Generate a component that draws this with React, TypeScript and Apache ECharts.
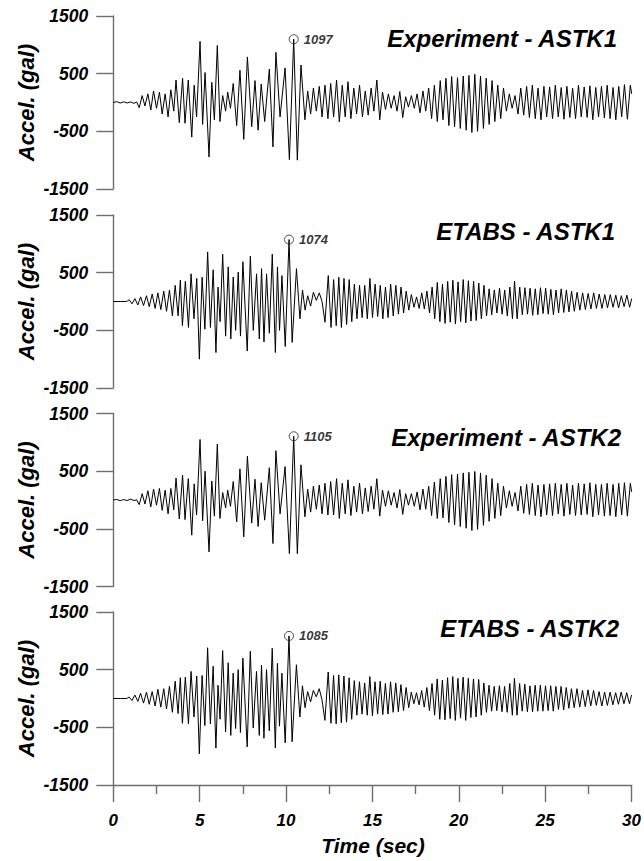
import React, { useEffect, useRef } from "react";
import * as echarts from "echarts";

const FONT = "'Liberation Sans', Arial, Helvetica, sans-serif";

const PANEL_TITLES = ["Experiment - ASTK1", "ETABS - ASTK1", "Experiment - ASTK2", "ETABS - ASTK2"];
const Y_TICKS = [-1500, -500, 500, 1500];
const Y_TITLE = "Accel. (gal)";
const X_TITLE = "Time (sec)";

// Experiment records: times of the read extrema (s), shared by ASTK1 and ASTK2
const EXP_T = [
  0, 0.2, 0.4, 0.6, 0.8, 1.0, 1.2, 1.35,
  1.5, 1.67, 1.83, 2.0, 2.17, 2.33, 2.5, 2.67, 2.83, 3.0, 3.17, 3.33, 3.5,
  3.63, 3.82, 4.01, 4.15, 4.34, 4.54, 4.68, 4.82, 5.02,
  5.17, 5.31, 5.54, 5.7, 5.85, 6.02, 6.17,
  6.33, 6.5, 6.62, 6.78, 6.94, 7.14, 7.33, 7.55, 7.76, 8.01,
  8.2, 8.38, 8.56, 8.76, 9.03, 9.24, 9.41,
  9.65, 9.94, 10.19, 10.44, 10.65, 10.86, 11.09,
  11.25, 11.42, 11.58, 11.75, 11.92, 12.08, 12.25, 12.42,
  12.58, 12.75, 12.92, 13.08, 13.25, 13.42, 13.58, 13.75, 13.92, 14.08, 14.25, 14.42, 14.58, 14.75, 14.92, 15.08, 15.25, 15.42,
  15.58, 15.75, 15.92, 16.08, 16.25, 16.42, 16.58, 16.75, 16.92, 17.08, 17.25, 17.42, 17.58, 17.75, 17.92, 18.08, 18.25, 18.42, 18.58,
  18.75, 18.92, 19.08, 19.25, 19.42, 19.58, 19.75, 19.92, 20.08, 20.25, 20.42, 20.58, 20.75, 20.92, 21.08, 21.25, 21.42, 21.58, 21.75, 21.92, 22.08, 22.25, 22.42, 22.58,
  22.75, 22.92, 23.08, 23.25, 23.42,
  23.58, 23.75, 23.92, 24.08, 24.25, 24.42, 24.58, 24.75, 24.92, 25.08, 25.25, 25.42, 25.58, 25.75, 25.92, 26.08, 26.25, 26.42, 26.58, 26.75,
  26.92, 27.08, 27.25, 27.42, 27.58, 27.75, 27.92, 28.08, 28.25, 28.42, 28.58, 28.75, 28.92, 29.08, 29.25, 29.42, 29.58, 29.75, 29.92, 30,
];

const EXP1_A = [
  0, 15, -10, 12, -8, 10, -15, 10,
  -90, 120, -60, 150, -130, 200, -100, 180, -200, 150, -250, 220, -150,
  390, -350, 420, -360, 390, -600, 300, -250, 1060,
  -380, 520, -945, 350, -300, 990, -330,
  120, -150, 180, -100, 330, -400, 560, -640, 790, -420,
  380, -480, 320, -330, 580, -770, 870,
  -250, 600, -990, 1097, -1000, 650, -300,
  200, -200, 250, -150, 280, -250, 300, -280,
  330, -250, 390, -335, 300, -250, 360, -280, 250, -200, 300, -250, 200, -220, 250, -150, 390, -300,
  180, -120, 150, -100, 120, -150, 190, -260, 100, -80, 120, -100, 150, -180, 200, -150, 250, -280, 300,
  -330, 380, -300, 420, -400, 450, -420, 430, -450, 460, -480, 470, -520, 490, -500, 460, -450, 420, -380, 380, -330, 300, -280, 250,
  -150, 150, -100, 120, -200,
  250, -220, 280, -260, 300, -280, 250, -300, 280, -250, 270, -280, 300, -250, 260, -290, 280, -260, 250, -280,
  300, -250, 270, -260, 290, -300, 260, -250, 280, -270, 300, -280, 260, -300, 280, -250, 310, -290, 300, 150,
];

const EXP2_A = [
  0, 10, -12, 8, -10, 15, -10, 5,
  -80, 110, -70, 160, -120, 190, -90, 200, -180, 170, -240, 200, -170,
  380, -330, 430, -340, 370, -610, 280, -260, 1050,
  -360, 500, -900, 330, -280, 970, -320,
  130, -140, 170, -110, 320, -380, 540, -640, 760, -400,
  360, -460, 300, -350, 560, -755, 855,
  -240, 580, -930, 1105, -930, 610, -290,
  190, -210, 240, -160, 260, -240, 290, -260,
  320, -260, 370, -320, 290, -240, 350, -270, 240, -210, 290, -240, 210, -200, 240, -160, 370, -280,
  170, -110, 160, -90, 130, -140, 180, -250, 110, -90, 110, -110, 140, -170, 190, -160, 240, -270, 310,
  -320, 370, -310, 410, -390, 440, -430, 450, -460, 470, -490, 480, -530, 495, -510, 470, -440, 430, -370, 370, -320, 290, -270, 240,
  -140, 160, -110, 130, -190,
  240, -230, 270, -250, 290, -270, 260, -290, 270, -260, 280, -270, 290, -240, 270, -280, 290, -250, 260, -270,
  290, -260, 280, -250, 300, -290, 270, -260, 270, -280, 290, -270, 270, -290, 290, -260, 300, -280, 290, 140,
];

// ETABS records: times of the read extrema (s), shared by ASTK1 and ASTK2
const ETB_T = [
  0, 0.4, 0.77,
  0.92, 1.08, 1.25, 1.42, 1.58, 1.75, 1.92, 2.08, 2.25, 2.42, 2.58, 2.75, 2.92, 3.08, 3.25, 3.42,
  3.58, 3.75, 3.88, 4.0, 4.17, 4.35, 4.5, 4.67, 4.83,
  4.98, 5.14, 5.3, 5.46, 5.62, 5.78, 5.94, 6.06, 6.18, 6.33,
  6.5, 6.65, 6.8, 6.94, 7.08, 7.23, 7.36, 7.5, 7.75, 7.93, 8.1, 8.29, 8.45, 8.58, 8.72, 8.87, 9.03, 9.2, 9.38, 9.5,
  9.62, 9.76, 9.95, 10.17, 10.35, 10.6, 10.8,
  10.95, 11.1, 11.25, 11.42, 11.58, 11.75, 11.92, 12.08, 12.25,
  12.44, 12.6, 12.75, 12.9, 13.05, 13.2, 13.35, 13.5, 13.65, 13.8, 13.95, 14.1, 14.25, 14.4,
  14.55, 14.7, 14.85, 15.0, 15.15, 15.3, 15.45, 15.6, 15.75, 15.9, 16.05, 16.2, 16.35, 16.5, 16.65, 16.8, 16.95, 17.1,
  17.25, 17.4, 17.55, 17.7, 17.85, 18.0, 18.15, 18.3,
  18.45, 18.6, 18.75, 18.9, 19.05, 19.2, 19.35, 19.5, 19.65, 19.8, 19.95, 20.1, 20.25, 20.4, 20.55, 20.7, 20.85, 21.0, 21.15, 21.3, 21.45,
  21.6, 21.75, 21.9, 22.05, 22.2, 22.35, 22.5, 22.65, 22.8, 22.95, 23.1,
  23.22, 23.37, 23.52, 23.67, 23.82, 23.97, 24.12, 24.27, 24.42, 24.57, 24.72, 24.87, 25.02, 25.17, 25.32, 25.47, 25.62, 25.77, 25.92, 26.07, 26.22, 26.37,
  26.52, 26.68, 26.84, 27.0, 27.16, 27.32, 27.48, 27.64, 27.8, 27.96, 28.12, 28.28, 28.44, 28.6, 28.76, 28.92, 29.08, 29.24, 29.4, 29.56, 29.72, 29.88, 30,
];

const ETB1_A = [
  0, 0, 0,
  30, -40, 50, -60, 80, -70, 100, -90, 130, -120, 150, -140, 180, -170, 200, -250,
  280, -250, 370, -420, 350, -450, 480, -300, 400,
  -1000, 420, -480, 860, -450, 550, -885, 250, -350, 820,
  -600, 600, -650, 425, -500, 510, -600, 690, -860, 785, -500, 480, -650, 570, -700, 480, -550, 820, -885, 600,
  -500, 450, -780, 1074, -710, 570, -300,
  200, -150, 100, -80, 160, 20, 150, 0, -360,
  450, -450, 380, -420, 420, -450, 400, -400, 380, -350, 300, -300, 280, -280,
  280, -300, 400, -280, 300, -260, 280, -300, 250, -280, 300, -250, 280, -220, 250, -200, 180, -150,
  120, -100, 80, -120, 150, -130, 180, -200,
  250, -300, 330, -350, 300, -380, 350, -360, 370, -390, 340, -350, 380, -370, 360, -340, 350, -330, 320, -300, 280,
  -250, 220, -230, 200, -200, 230, -220, 200, -250, 250, -300,
  355, -300, 250, -230, 240, -220, 230, -240, 220, -230, 240, -210, 230, -220, 210, -230, 200, -200, 220, -190, 200, -180,
  180, -170, 160, -150, 150, -140, 140, -130, 150, -120, 130, -120, 120, -110, 120, -100, 110, -110, 100, -90, 110, -100, 50,
];

const ETB2_A = [
  0, 0, 0,
  25, -35, 60, -50, 90, -80, 110, -100, 120, -130, 160, -150, 170, -180, 210, -240,
  300, -260, 360, -430, 370, -440, 470, -320, 390,
  -960, 400, -470, 880, -440, 560, -860, 230, -360, 830,
  -580, 620, -640, 440, -520, 500, -590, 700, -840, 820, -510, 470, -640, 580, -690, 500, -560, 870, -860, 610,
  -480, 440, -770, 1085, -750, 585, -320,
  220, -160, 120, -60, 140, 30, 170, -20, -380,
  460, -430, 400, -440, 410, -420, 390, -410, 360, -360, 310, -290, 290, -270,
  270, -290, 380, -300, 290, -270, 300, -280, 260, -270, 290, -240, 270, -230, 240, -210, 190, -160,
  110, -90, 100, -110, 140, -150, 190, -210,
  260, -290, 340, -360, 320, -370, 360, -350, 380, -380, 350, -340, 370, -380, 350, -330, 340, -320, 330, -290, 270,
  -240, 230, -220, 210, -210, 220, -230, 210, -240, 260, -290,
  350, -290, 260, -220, 250, -230, 220, -230, 230, -220, 230, -220, 220, -210, 220, -220, 210, -190, 210, -200, 190, -170,
  170, -160, 170, -150, 140, -140, 150, -130, 140, -120, 120, -130, 110, -120, 110, -110, 100, -100, 110, -90, 100, -90, 60,
];

const PANELS = [
  { t: EXP_T, a: EXP1_A },
  { t: ETB_T, a: ETB1_A },
  { t: EXP_T, a: EXP2_A },
  { t: ETB_T, a: ETB2_A },
];

const GRID_TOPS = [16, 215, 413.5, 612];
const GRID_H = 173;
const GRID_LEFT = 113.3;
const GRID_RIGHT = 12.3;
const TITLE_Y = [38, 231, 437, 628];
const TITLE_RIGHT_X = [617, 615, 621, 619];

const AXIS_COLOR = "#6e6e6e";

export default function App() {
  const ref = useRef<HTMLDivElement>(null);

  useEffect(() => {
    if (!ref.current) return;
    const chart = echarts.init(ref.current, null, { renderer: "svg" });

    const grids: any[] = [];
    const xAxes: any[] = [];
    const yAxes: any[] = [];
    const series: any[] = [];
    const graphics: any[] = [];

    const labelFont = {
      fontFamily: FONT,
      fontStyle: "italic",
      fontWeight: "bold",
      color: "#000",
    };

    PANELS.forEach((p, i) => {
      const n = Math.min(p.t.length, p.a.length);
      const data: number[][] = [];
      let maxIdx = 0;
      for (let k = 0; k < n; k++) {
        data.push([p.t[k], p.a[k]]);
        if (p.a[k] > p.a[maxIdx]) maxIdx = k;
      }
      const last = i === PANELS.length - 1;
      grids.push({ left: GRID_LEFT, right: GRID_RIGHT, top: GRID_TOPS[i], height: GRID_H, containLabel: false });
      xAxes.push({
        gridIndex: i,
        type: "value",
        min: 0,
        max: 30,
        interval: 5,
        show: last,
        axisLine: { show: true, onZero: false, lineStyle: { color: AXIS_COLOR, width: 1.4 } },
        axisTick: { show: true, length: 17, lineStyle: { color: AXIS_COLOR, width: 1.4 } },
        minorTick: { show: true, splitNumber: 2, length: 9, lineStyle: { color: AXIS_COLOR, width: 1.4 } },
        axisLabel: {
          show: true,
          margin: 27,
          fontSize: 17,
          formatter: (v: number) => String(v),
          ...labelFont,
        },
        splitLine: { show: false },
      });
      yAxes.push({
        gridIndex: i,
        type: "value",
        min: -1500,
        max: 1500,
        axisLine: { show: true, onZero: false, lineStyle: { color: AXIS_COLOR, width: 1.4 } },
        axisTick: { show: true, length: 17, customValues: Y_TICKS, lineStyle: { color: AXIS_COLOR, width: 1.4 } },
        axisLabel: {
          show: true,
          customValues: Y_TICKS,
          margin: 25,
          fontSize: 17.5,
          formatter: (v: number) => String(v),
          ...labelFont,
        },
        splitLine: { show: false },
      });
      series.push({
        type: "line",
        xAxisIndex: i,
        yAxisIndex: i,
        data,
        showSymbol: false,
        symbol: "none",
        smooth: false,
        silent: true,
        lineStyle: { color: "#000", width: 1 },
        z: 2,
      });
      series.push({
        type: "scatter",
        xAxisIndex: i,
        yAxisIndex: i,
        data: [data[maxIdx]],
        symbol: "circle",
        symbolSize: 9,
        silent: true,
        itemStyle: { color: "rgba(0,0,0,0)", borderColor: "#222", borderWidth: 1 },
        label: {
          show: true,
          position: "right",
          distance: 5,
          formatter: (prm: any) => String(prm.value[1]),
          fontSize: 13,
          ...labelFont,
        },
        z: 3,
      });
      graphics.push({
        type: "text",
        x: TITLE_RIGHT_X[i],
        y: TITLE_Y[i],
        style: {
          text: PANEL_TITLES[i],
          align: "right",
          verticalAlign: "middle",
          font: `italic bold 24px ${FONT}`,
          fill: "#000",
        },
      });
      graphics.push({
        type: "text",
        x: 26,
        y: GRID_TOPS[i] + GRID_H / 2,
        rotation: Math.PI / 2,
        style: {
          text: Y_TITLE,
          align: "center",
          verticalAlign: "middle",
          font: `italic bold 22px ${FONT}`,
          fill: "#000",
        },
      });
    });

    graphics.push({
      type: "text",
      x: 373,
      y: 845,
      style: {
        text: X_TITLE,
        align: "center",
        verticalAlign: "middle",
        font: `italic bold 21px ${FONT}`,
        fill: "#000",
      },
    });

    chart.setOption({
      animation: false,
      backgroundColor: "#fff",
      grid: grids,
      xAxis: xAxes,
      yAxis: yAxes,
      series,
      graphic: graphics,
    });

    return () => chart.dispose();
  }, []);

  return (
    <div
      ref={ref}
      style={{ position: "absolute", left: 0, top: 0, width: 644, height: 861, background: "#fff" }}
    />
  );
}
